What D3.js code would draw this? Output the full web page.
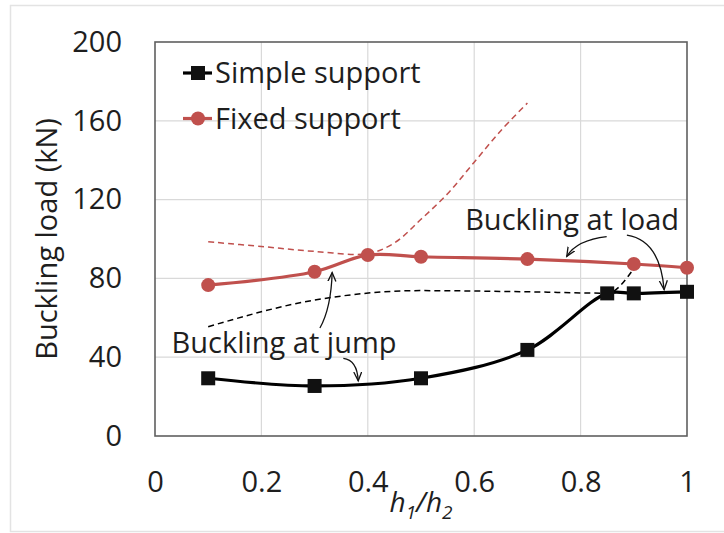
<!DOCTYPE html>
<html>
<head>
<meta charset="utf-8">
<script src="https://cdn.jsdelivr.net/npm/d3@7"></script>
<style>
  html, body { margin: 0; padding: 0; background: #fff; }
  svg { display: block; }
  text { font-family: "Open Sans", "Noto Sans", sans-serif; fill: #1e1e1e; }
</style>
</head>
<body>
<svg id="chart" width="724" height="533"></svg>
<script>
// h1/h2 ratios and buckling loads (kN)
const simpleRatio = [0.1, 0.3, 0.5, 0.7, 0.85, 0.9, 1.0];
const simpleLoad  = [29.3, 25.4, 29.3, 43.7, 72.4, 72.4, 73.2];

const fixedRatio = [0.1, 0.3, 0.4, 0.5, 0.7, 0.9, 1.0];
const fixedLoad  = [76.6, 83.4, 91.9, 91.0, 89.8, 87.3, 85.4];

// jump-buckling branches (dashed)
const simpleJumpRatio = [0.1, 0.3, 0.5, 0.7, 0.85, 0.9];
const simpleJumpLoad  = [55.5, 69.0, 73.8, 73.2, 72.5, 85.0];

const fixedJumpRatio = [0.1, 0.2, 0.3, 0.4, 0.45, 0.5, 0.55, 0.6, 0.65, 0.7];
const fixedJumpLoad  = [98.6, 96.2, 93.7, 92.6, 98.0, 110.0, 123.0, 139.0, 155.0, 169.0];

const xTicks = [0, 0.2, 0.4, 0.6, 0.8, 1];
const xTickLabels = ["0", "0.2", "0.4", "0.6", "0.8", "1"];
const yTicks = [0, 40, 80, 120, 160, 200];

const seriesNames = ["Simple support", "Fixed support"];

// annotation arrows: [start, control, end] in (ratio, load)
const jumpArrows = [
  [[0.310, 54.8], [0.331, 65.0], [0.333, 83.0]],
  [[0.354, 39.4], [0.380, 38.6], [0.382, 28.0]]
];
const loadArrows = [
  [[0.849, 101.2], [0.793, 99.5], [0.774, 91.2]],
  [[0.887, 102.0], [0.949, 99.5], [0.957, 74.3]]
];
const annotations = [
  { text: "Buckling at jump", at: [0.031, 42.0] },
  { text: "Buckling at load", at: [0.583, 104.6] }
];

const red = "#c0504d";
const black = "#000";

const svg = d3.select("#chart");
const W = 724, H = 533;

// light frame around the figure
svg.append("rect")
  .attr("x", 10.5).attr("y", 5.5)
  .attr("width", W).attr("height", 526)
  .attr("fill", "#fff").attr("stroke", "#e3e3e3").attr("stroke-width", 1.5);

const x = d3.scaleLinear().domain([0, 1]).range([155, 687]);
const y = d3.scaleLinear().domain([0, 200]).range([436, 42]);

// gridlines
const grid = svg.append("g");
grid.selectAll(".gx").data(xTicks.slice(1, -1)).join("line")
  .attr("x1", d => x(d)).attr("x2", d => x(d))
  .attr("y1", y(0)).attr("y2", y(200))
  .attr("stroke", "#d9d9d9").attr("stroke-width", 1.2);
grid.selectAll(".gy").data(yTicks.slice(1, -1)).join("line")
  .attr("x1", x(0)).attr("x2", x(1))
  .attr("y1", d => y(d)).attr("y2", d => y(d))
  .attr("stroke", "#d9d9d9").attr("stroke-width", 1.2);

// plot frame
svg.append("rect")
  .attr("x", x(0)).attr("y", y(200))
  .attr("width", x(1) - x(0)).attr("height", y(0) - y(200))
  .attr("fill", "none").attr("stroke", "#5f5f5f").attr("stroke-width", 1.6);

// axes
const xAxis = svg.append("g").attr("transform", `translate(0,${y(0)})`)
  .call(d3.axisBottom(x).tickValues(xTicks).tickFormat((d, i) => xTickLabels[i])
    .tickSize(0).tickPadding(35));
const yAxis = svg.append("g").attr("transform", `translate(${x(0)},0)`)
  .call(d3.axisLeft(y).tickValues(yTicks).tickSize(0).tickPadding(33));
[xAxis, yAxis].forEach(g => {
  g.select(".domain").remove();
  g.selectAll("text").attr("font-size", 29)
    .style("font-family", "'Open Sans', sans-serif").attr("fill", "#1e1e1e");
});

// axis titles
svg.append("text")
  .attr("transform", `translate(57,239) rotate(-90)`)
  .attr("text-anchor", "middle").attr("font-size", 29)
  .text("Buckling load (kN)");

const xt = svg.append("text")
  .attr("x", 421).attr("y", 512)
  .attr("text-anchor", "middle").attr("font-size", 28).attr("font-style", "italic");
xt.append("tspan").text("h");
xt.append("tspan").attr("font-size", 19).attr("dy", 7).text("1");
xt.append("tspan").attr("dy", -7).text("/h");
xt.append("tspan").attr("font-size", 19).attr("dy", 7).text("2");

// curves
const pts = (xs, ys) => xs.map((d, i) => [d, ys[i]]);
const smooth = d3.line().x(d => x(d[0])).y(d => y(d[1])).curve(d3.curveCatmullRom.alpha(0.5));
const mono = d3.line().x(d => x(d[0])).y(d => y(d[1])).curve(d3.curveMonotoneX);

svg.append("path").attr("d", smooth(pts(fixedJumpRatio, fixedJumpLoad)))
  .attr("fill", "none").attr("stroke", red).attr("stroke-width", 1.5)
  .attr("stroke-dasharray", "6,4");
svg.append("path").attr("d", mono(pts(simpleJumpRatio, simpleJumpLoad)))
  .attr("fill", "none").attr("stroke", black).attr("stroke-width", 1.5)
  .attr("stroke-dasharray", "6,4");

svg.append("path").attr("d", smooth(pts(fixedRatio, fixedLoad)))
  .attr("fill", "none").attr("stroke", red).attr("stroke-width", 3.2);
svg.append("path").attr("d", smooth(pts(simpleRatio, simpleLoad)))
  .attr("fill", "none").attr("stroke", black).attr("stroke-width", 3.2);

// markers
svg.append("g").selectAll("rect").data(pts(simpleRatio, simpleLoad)).join("rect")
  .attr("x", d => x(d[0]) - 7).attr("y", d => y(d[1]) - 7)
  .attr("width", 14).attr("height", 14).attr("fill", "#111");
svg.append("g").selectAll("circle").data(pts(fixedRatio, fixedLoad)).join("circle")
  .attr("cx", d => x(d[0])).attr("cy", d => y(d[1])).attr("r", 7).attr("fill", red);

// arrowhead
svg.append("defs").append("marker")
  .attr("id", "head").attr("markerUnits", "userSpaceOnUse")
  .attr("markerWidth", 12).attr("markerHeight", 12)
  .attr("refX", 9).attr("refY", 4.5).attr("orient", "auto")
  .append("path").attr("d", "M0,0.5 L9,4.5 L0,8.5")
  .attr("fill", "none").attr("stroke", "#111").attr("stroke-width", 1.3);

const arrowPath = a => {
  const [s, c, e] = a.map(p => [x(p[0]), y(p[1])]);
  return `M${s[0]},${s[1]} Q${c[0]},${c[1]} ${e[0]},${e[1]}`;
};
svg.append("g").selectAll("path").data(jumpArrows.concat(loadArrows)).join("path")
  .attr("d", arrowPath).attr("fill", "none")
  .attr("stroke", "#111").attr("stroke-width", 1.3)
  .attr("marker-end", "url(#head)");

svg.append("g").selectAll("text").data(annotations).join("text")
  .attr("x", d => x(d.at[0])).attr("y", d => y(d.at[1]))
  .attr("font-size", 29).text(d => d.text);

// legend
const legend = svg.append("g").attr("transform", `translate(${x(0)},${y(200)})`);
const rows = [
  { name: seriesNames[0], color: black, dy: 31, shape: "rect" },
  { name: seriesNames[1], color: red, dy: 76.5, shape: "circle" }
];
rows.forEach(r => {
  const g = legend.append("g").attr("transform", `translate(0,${r.dy})`);
  g.append("line").attr("x1", 28).attr("x2", 57).attr("y1", 0).attr("y2", 0)
    .attr("stroke", r.color).attr("stroke-width", 3.2);
  if (r.shape === "rect") {
    g.append("rect").attr("x", 36).attr("y", -7).attr("width", 14).attr("height", 14).attr("fill", "#111");
  } else {
    g.append("circle").attr("cx", 43).attr("cy", 0).attr("r", 7).attr("fill", r.color);
  }
  g.append("text").attr("x", 60).attr("y", 10).attr("font-size", 29).text(r.name);
});
</script>
</body>
</html>
